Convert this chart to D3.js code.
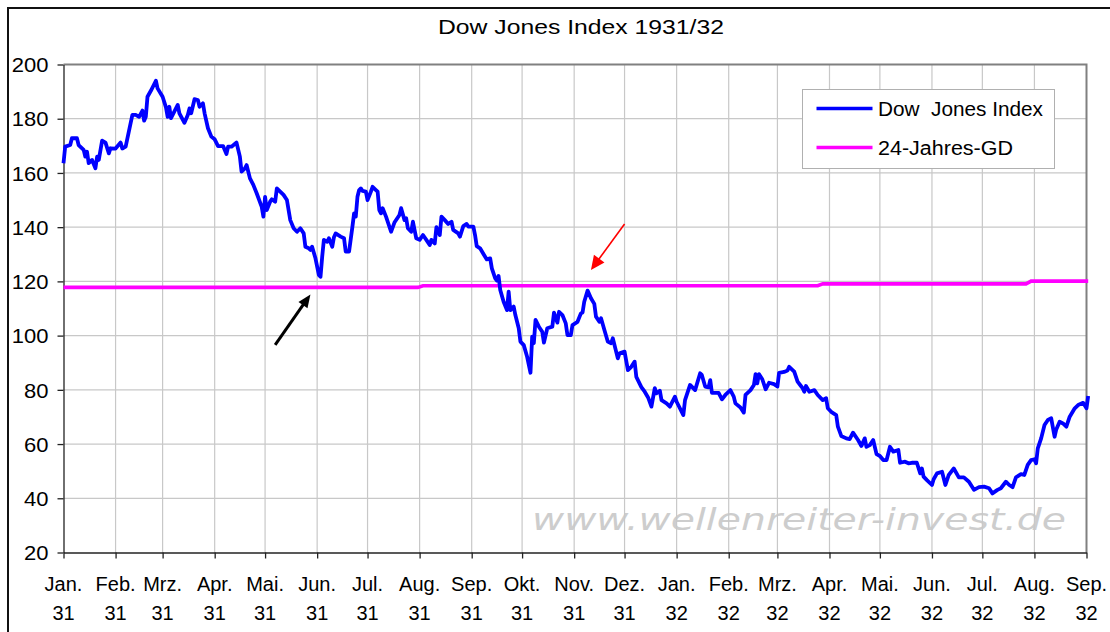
<!DOCTYPE html>
<html>
<head>
<meta charset="utf-8">
<script src="https://cdn.jsdelivr.net/npm/d3@7/dist/d3.min.js"></script>
<style>
  body { margin: 0; background: #fff; }
  svg text { font-family: "Liberation Sans", Arial, sans-serif; fill: #000; }
</style>
</head>
<body>
<div id="chart"></div>
<script>
// series data: day offsets counted from 1 Jan 1931
var startDate = new Date(Date.UTC(1931, 0, 1));
var endDate = new Date(Date.UTC(1932, 8, 1));

var djDay = [
  0, 1, 4, 5, 8, 9, 12, 13, 14, 15, 17, 19, 20, 21, 23, 25, 27, 28, 31, 34, 35, 37,
  41, 43, 45, 47, 48, 49, 50, 52, 55, 56, 59, 61, 62, 63, 64, 68, 69, 72, 74, 75, 76,
  78, 80, 81, 83, 84, 86, 88, 90, 92, 95, 97, 98, 100, 103, 105, 106, 108, 109, 111,
  113, 115, 118, 119, 120, 121, 123, 124, 126, 127, 131, 133, 135, 137, 139, 141, 143,
  144, 146, 147, 148, 150, 152, 153, 154, 155, 157, 158, 160, 161, 162, 165, 167, 168,
  170, 172, 173, 174, 175, 176, 177, 178, 180, 181, 183, 184, 186, 187, 188, 189, 190,
  192, 195, 197, 200, 201, 203, 204, 205, 207, 208, 210, 212, 214, 216, 218, 219, 221,
  222, 224, 225, 227, 229, 231, 232, 235, 236, 238, 240, 241, 244, 245, 246, 248, 250,
  252, 254, 255, 257, 258, 259, 260, 262, 264, 265, 266, 268, 269, 271, 272, 274, 276,
  278, 279, 280, 281, 283, 285, 286, 288, 291, 292, 294, 295, 297, 299, 300, 302, 303,
  306, 308, 309, 310, 312, 314, 316, 317, 319, 320, 322, 324, 326, 327, 330, 331, 334,
  336, 338, 340, 341, 344, 346, 348, 350, 352, 353, 355, 356, 359, 361, 364, 365, 369,
  370, 373, 376, 379, 380, 382, 384, 385, 386, 390, 392, 394, 397, 399, 400, 403, 405,
  406, 409, 411, 412, 413, 414, 416, 418, 420, 423, 425, 426, 429, 431, 432, 435, 437,
  439, 440, 441, 442, 444, 447, 449, 452, 454, 455, 457, 460, 461, 463, 466, 468, 470,
  473, 475, 477, 478, 480, 482, 484, 486, 488, 490, 492, 494, 497, 498, 501, 503, 505,
  508, 510, 511, 512, 514, 517, 518, 520, 523, 525, 527, 530, 533, 536, 539, 542, 545,
  548, 551, 553, 556, 558, 561, 563, 565, 567, 570, 572, 574, 576, 578, 579, 580, 582,
  584, 586, 588, 590, 591, 593, 595, 597, 599, 602, 604, 607, 609, 610
];
var djValue = [
  163.6, 169.7, 170.3, 172.8, 172.8, 170.3, 168.5, 166, 167.8, 163.6, 164.8, 161.7, 166, 164.8, 171.9, 171.2, 167.2, 169.1, 169, 171.2, 169, 169.7,
  181.4, 181.4, 180.7, 183, 179.3, 180.7, 188.1, 190.3, 194, 191.2, 188.1, 184.2, 180.7, 184.4, 180.2, 185.1, 182, 178.5, 181.4, 183.8, 182,
  187.2, 186.9, 184.4, 185.7, 182, 176.5, 173.4, 172.4, 169.9, 169.9, 167, 169.7, 169.7, 171.2, 166, 160.5, 161.7, 162.9, 158,
  155.6, 152.5, 147.5, 143.9, 151.2, 146.3, 149.4, 150.3, 149.4, 154.3, 151.9, 150, 142.6, 139.6, 138.3, 139.6, 137.7,
  132.8, 132.2, 131.6, 132.8, 128.5, 122.4, 121.7, 129.1, 135.3, 134.6, 135.9, 132.8, 136.3, 137.7, 136.5, 135.9, 131,
  131, 140.2, 145.1, 143.9, 151.2, 153.7, 154.3, 153.4, 153.1, 150, 153.1, 154.9, 153.7, 153.1, 146.3, 145.1, 147,
  143.9, 138.3, 141.7, 144.5, 147, 142.6, 143.3, 139.6, 138.3, 142, 135.9, 135.3, 137.1, 135.3, 133.4, 135.3, 134,
  140, 137.1, 143.9, 142.6, 141.2, 142, 139, 137.7, 136.5, 140.4, 141.2, 140.2, 140.2, 137.1, 133, 132.2, 130.1,
  128.1, 128.5, 124.8, 121.1, 120.3, 122, 116.8, 112.5, 109.4, 116.2, 109.4, 110.7, 107.6, 102.7, 97.8, 96.5, 92.2,
  86.3, 99.6, 97.2, 105.8, 103.3, 101.4, 97.4, 102.7, 103.3, 108.5, 104.8, 108.8, 107.6, 104.5, 100.2, 100.2, 103.9,
  105.1, 108.2, 108.5, 112.5, 116.6, 113.8, 111.7, 107, 105.1, 106.4, 102.1, 97.8, 97.2, 99, 91.6, 93.5, 94.1,
  87.3, 88.5, 90.4, 84.8, 81, 79.3, 77.2, 73.8, 80.6, 78.7, 79.7, 76.2, 75, 73.8, 77.5, 75.6, 70.7,
  76.2, 81.8, 79.9, 86.1, 85.5, 81.2, 80.9, 83.6, 78.9, 78.9, 76.5, 78.1, 79.9, 77.5, 75, 73.5, 71.6,
  78.1, 79.9, 81.8, 85.8, 82.4, 85.8, 83.9, 80.2, 82.6, 82.1, 81.2, 86.3, 86.6, 87.1, 88.5, 86.7, 83,
  81.4, 80.6, 79.3, 81.4, 79.3, 79.9, 78.1, 76.2, 76.9, 73.2, 71.9, 70.7, 66.4, 63, 62.1, 61.8, 64.2,
  61.5, 59.3, 62.1, 59, 59.6, 61.5, 56.3, 55.6, 54.1, 54.1, 59, 57.2, 57.8, 53.1, 53.5, 52.9, 53.1,
  53.1, 49.2, 51, 48, 46.7, 44.9, 47, 49.2, 49.8, 44.9, 48.6, 51, 47.7, 47.7, 46.1, 43.1, 44.1,
  44.3, 43.7, 41.8, 43.1, 43.7, 46.1, 44.9, 44.1, 47.7, 48.9, 48.6, 52.3, 54.1, 54.4, 52.9, 58.4, 62.1,
  67, 68.9, 69.5, 62.7, 65.4, 68.2, 67.6, 66.4, 70.1, 73.2, 74.4, 75.2, 73.2, 77.7
];

var gdDay = [0, 211, 214, 449, 452, 573, 576, 610];
var gdValue = [117.8, 117.8, 118.4, 118.4, 119.1, 119.1, 120.1, 120.1];

var yTicks = [20, 40, 60, 80, 100, 120, 140, 160, 180, 200];
var monthLabels = ['Jan.', 'Feb.', 'Mrz.', 'Apr.', 'Mai.', 'Jun.', 'Jul.', 'Aug.', 'Sep.', 'Okt.', 'Nov.', 'Dez.'];
var seriesNames = ['Dow  Jones Index', '24-Jahres-GD'];
var seriesColors = ['#0000ff', '#ff00ff'];

// annotation arrows: tail and tip as [day, value]
var arrows = [
  {from: [126.5, 96.6], to: [147.7, 115.2], color: '#000', width: 3, head: 13, half: 5.5},
  {from: [334.8, 141.2], to: [314.8, 124.2], color: '#ff0000', width: 1.6, head: 14, half: 6.5}
];

var width = 1110, height = 632;
var plot = {left: 63.5, top: 64.5, right: 1086.5, bottom: 552.5};

var svg = d3.select('#chart').append('svg').attr('width', width).attr('height', height);

var x = d3.scaleUtc().domain([startDate, endDate]).range([plot.left, plot.right]);
var y = d3.scaleLinear().domain([20, 200]).range([plot.bottom, plot.top]);
var dayToDate = function(d) { return d3.utcDay.offset(startDate, d); };

// the reference fonts look a little wider than Liberation Sans
var widen = function(sel, k) {
  sel.each(function() {
    var len = this.getComputedTextLength();
    d3.select(this).attr('textLength', len * k).attr('lengthAdjust', 'spacingAndGlyphs');
  });
};

// outer chart frame (runs off the right and bottom edge)
svg.append('rect').attr('x', 8).attr('y', 8).attr('width', 1120).attr('height', 640)
  .attr('fill', '#fff').attr('stroke', '#111').attr('stroke-width', 2);

// title
svg.append('text').attr('x', 581).attr('y', 33.5).attr('text-anchor', 'middle')
  .style('font-size', '20px').attr('textLength', 286).attr('lengthAdjust', 'spacingAndGlyphs')
  .text('Dow Jones Index 1931/32');

// watermark
svg.append('text').attr('x', 799).attr('y', 530).attr('text-anchor', 'middle')
  .style('font-family', '"DejaVu Sans", Verdana, sans-serif').style('font-style', 'italic')
  .style('font-size', '31px').style('fill', '#cdcdcd')
  .attr('textLength', 534).attr('lengthAdjust', 'spacingAndGlyphs')
  .text('www.wellenreiter-invest.de');

var months = d3.utcMonth.range(startDate, d3.utcDay.offset(endDate, 1));

// grid
var grid = svg.append('g').attr('stroke', '#c8c8c8').attr('stroke-width', 1.2);
grid.selectAll('.hgrid').data(yTicks.slice(1, -1)).enter().append('line')
  .attr('x1', plot.left).attr('x2', plot.right)
  .attr('y1', function(d) { return y(d); }).attr('y2', function(d) { return y(d); });
grid.selectAll('.vgrid').data(months.slice(1, -1)).enter().append('line')
  .attr('y1', plot.top).attr('y2', plot.bottom)
  .attr('x1', function(d) { return x(d); }).attr('x2', function(d) { return x(d); });

// plot border top/right
svg.append('path').attr('d', 'M' + plot.left + ',' + plot.top + 'H' + plot.right + 'V' + plot.bottom)
  .attr('fill', 'none').attr('stroke', '#808080').attr('stroke-width', 2);

// y axis
var yAxis = svg.append('g').attr('transform', 'translate(' + plot.left + ',0)')
  .call(d3.axisLeft(y).tickValues(yTicks).tickSize(6).tickSizeOuter(0).tickPadding(9));
yAxis.selectAll('text').style('font-size', '20px').attr('dy', '0.36em')
  .style('font-family', '"Liberation Sans", Arial, sans-serif');
yAxis.selectAll('line, path').attr('stroke', '#222').attr('stroke-width', 1.3);
widen(yAxis.selectAll('text'), 1.1);

// x axis
var xAxis = svg.append('g').attr('transform', 'translate(0,' + plot.bottom + ')')
  .call(d3.axisBottom(x).tickValues(months).tickSize(6).tickSizeOuter(0).tickFormat(''));
xAxis.selectAll('line, path').attr('stroke', '#222').attr('stroke-width', 1.3);

var xLabels = svg.append('g').selectAll('text').data(months).enter().append('text')
  .attr('text-anchor', 'middle').style('font-size', '20px')
  .attr('transform', function(d) { return 'translate(' + x(d) + ',0)'; });
xLabels.append('tspan').attr('x', 0).attr('y', 590.5).text(function(d) {
  return monthLabels[d.getUTCMonth()];
});
xLabels.append('tspan').attr('x', 0).attr('y', 620).text(function(d) {
  return String(d.getUTCFullYear()).slice(2);
});

// series
var gdLine = d3.line().x(function(d, i) { return x(dayToDate(gdDay[i])); })
  .y(function(d) { return y(d); });
svg.append('path').datum(gdValue).attr('d', gdLine).attr('fill', 'none')
  .attr('stroke', seriesColors[1]).attr('stroke-width', 3.6);

var djLine = d3.line().x(function(d, i) { return x(dayToDate(djDay[i])); })
  .y(function(d) { return y(d); });
svg.append('path').datum(djValue).attr('d', djLine).attr('fill', 'none')
  .attr('stroke', seriesColors[0]).attr('stroke-width', 3.8).attr('stroke-linejoin', 'round');

// arrows
arrows.forEach(function(a) {
  var x0 = x(dayToDate(a.from[0])), y0 = y(a.from[1]);
  var x1 = x(dayToDate(a.to[0])), y1 = y(a.to[1]);
  var ang = Math.atan2(y1 - y0, x1 - x0);
  var bx = x1 - Math.cos(ang) * a.head, by = y1 - Math.sin(ang) * a.head;
  var px = -Math.sin(ang) * a.half, py = Math.cos(ang) * a.half;
  svg.append('line').attr('x1', x0).attr('y1', y0).attr('x2', bx + Math.cos(ang) * 2).attr('y2', by + Math.sin(ang) * 2)
    .attr('stroke', a.color).attr('stroke-width', a.width);
  svg.append('polygon')
    .attr('points', [[x1, y1], [bx + px, by + py], [bx - px, by - py]].map(function(p) { return p.join(','); }).join(' '))
    .attr('fill', a.color);
});

// legend
var legend = svg.append('g');
legend.append('rect').attr('x', 802.5).attr('y', 89.5).attr('width', 252).attr('height', 79)
  .attr('fill', '#fff').attr('stroke', '#b0b0b0').attr('stroke-width', 1);
var legendRows = [108.5, 147.5];
var legendWidths = [165, 135];
seriesNames.forEach(function(name, i) {
  legend.append('line').attr('x1', 816.5).attr('x2', 872.5)
    .attr('y1', legendRows[i]).attr('y2', legendRows[i])
    .attr('stroke', seriesColors[i]).attr('stroke-width', 3.5);
  legend.append('text').attr('x', 878).attr('y', legendRows[i] + 7)
    .style('font-size', '20px').attr('textLength', legendWidths[i]).attr('lengthAdjust', 'spacingAndGlyphs')
    .attr('xml:space', 'preserve').style('white-space', 'pre')
    .text(name);
});
</script>
</body>
</html>
